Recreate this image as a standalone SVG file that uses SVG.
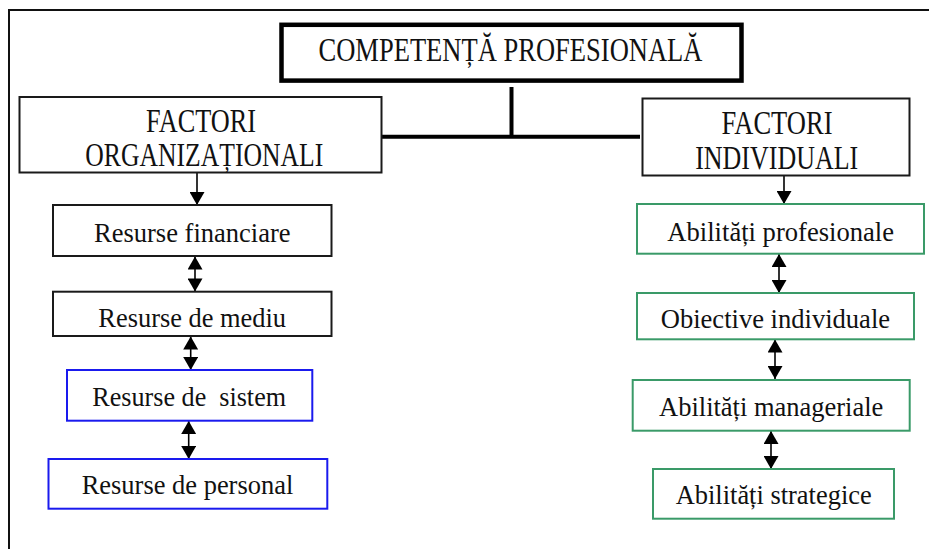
<svg xmlns="http://www.w3.org/2000/svg" width="929" height="549" viewBox="0 0 929 549">
<style>
text{font-family:"Liberation Serif","Times New Roman",serif;fill:#111;text-anchor:middle}
.h{font-size:33px}
.f{font-size:33px}
.t{font-size:28px}
.blk{fill:#fff;stroke:#1a1a1a;stroke-width:2}
.blu{fill:#fff;stroke:#1a1aee;stroke-width:2}
.grn{fill:#fff;stroke:#3a9a68;stroke-width:2}
.ln{stroke:#000;stroke-width:1.6;fill:none}
.thick{stroke:#000;stroke-width:4;fill:none}
</style>
<defs>
<marker id="ah" markerUnits="userSpaceOnUse" markerWidth="15" markerHeight="15" viewBox="0 0 13 15" refX="13" refY="7.5" orient="auto-start-reverse">
<path d="M0,0 L13,7.5 L0,15 z" fill="#000"/>
</marker>
</defs>
<rect width="929" height="549" fill="#fff"/>
<g id="frame">
<path d="M8,10 H929 M9,10 V549" stroke="#111" stroke-width="2" fill="none"/>
</g>
<g id="connectors">
<line class="thick" x1="511.5" y1="87" x2="511.5" y2="136.7"/>
<line class="thick" x1="380" y1="136.7" x2="640" y2="136.7"/>
<line class="ln" x1="197" y1="173" x2="197" y2="205" marker-end="url(#ah)"/>
<line class="ln" x1="195" y1="256.5" x2="195" y2="291.5" marker-start="url(#ah)" marker-end="url(#ah)"/>
<line class="ln" x1="190.7" y1="336.5" x2="190.7" y2="370" marker-start="url(#ah)" marker-end="url(#ah)"/>
<line class="ln" x1="188.7" y1="421" x2="188.7" y2="459" marker-start="url(#ah)" marker-end="url(#ah)"/>
<line class="ln" x1="784" y1="176" x2="784" y2="204" marker-end="url(#ah)"/>
<line class="ln" x1="779" y1="254" x2="779" y2="293" marker-start="url(#ah)" marker-end="url(#ah)"/>
<line class="ln" x1="775" y1="339.5" x2="775" y2="379" marker-start="url(#ah)" marker-end="url(#ah)"/>
<line class="ln" x1="771" y1="431" x2="771" y2="469" marker-start="url(#ah)" marker-end="url(#ah)"/>
</g>
<g id="competenta">
<rect x="281.5" y="24.8" width="460" height="55.8" fill="#fff" stroke="#000" stroke-width="4.5"/>
<text class="h" x="510.5" y="61" textLength="384" lengthAdjust="spacingAndGlyphs">COMPETENȚĂ PROFESIONALĂ</text>
</g>
<g id="factori-org">
<rect class="blk" x="19.5" y="97" width="362" height="75.5"/>
<text class="f" x="201" y="132" textLength="110" lengthAdjust="spacingAndGlyphs">FACTORI</text>
<text class="f" x="204.3" y="165.7" textLength="238" lengthAdjust="spacingAndGlyphs">ORGANIZAȚIONALI</text>
</g>
<g id="factori-ind">
<rect class="blk" x="642.5" y="98.5" width="267" height="77"/>
<text class="f" x="777" y="134" textLength="111" lengthAdjust="spacingAndGlyphs">FACTORI</text>
<text class="f" x="776.7" y="169" textLength="163" lengthAdjust="spacingAndGlyphs">INDIVIDUALI</text>
</g>
<g id="res-fin">
<rect class="blk" x="53" y="205" width="278.5" height="51"/>
<text class="t" x="192.3" y="241.7" textLength="196.7" lengthAdjust="spacingAndGlyphs">Resurse financiare</text>
</g>
<g id="res-mediu">
<rect class="blk" x="53" y="291.7" width="278.5" height="44.3"/>
<text class="t" x="192.2" y="327.3" textLength="187.7" lengthAdjust="spacingAndGlyphs">Resurse de mediu</text>
</g>
<g id="res-sistem">
<rect class="blu" x="67" y="370" width="245.3" height="50.7"/>
<text class="t" x="189.2" y="405.7" textLength="193.7" lengthAdjust="spacingAndGlyphs" xml:space="preserve">Resurse de  sistem</text>
</g>
<g id="res-personal">
<rect class="blu" x="48.5" y="459" width="278.8" height="49.7"/>
<text class="t" x="187.5" y="494" textLength="211.6" lengthAdjust="spacingAndGlyphs">Resurse de personal</text>
</g>
<g id="abil-prof">
<rect class="grn" x="637" y="204" width="287" height="49.7"/>
<text class="t" x="780.7" y="240.7" textLength="226.7" lengthAdjust="spacingAndGlyphs">Abilități profesionale</text>
</g>
<g id="obiective">
<rect class="grn" x="637" y="293" width="277" height="46.3"/>
<text class="t" x="775.4" y="328.3" textLength="229.3" lengthAdjust="spacingAndGlyphs">Obiective individuale</text>
</g>
<g id="abil-man">
<rect class="grn" x="632.7" y="380" width="277" height="50.7"/>
<text class="t" x="771.2" y="416" textLength="224.3" lengthAdjust="spacingAndGlyphs">Abilități manageriale</text>
</g>
<g id="abil-strat">
<rect class="grn" x="653" y="469" width="241" height="49.7"/>
<text class="t" x="773.7" y="504.3" textLength="196" lengthAdjust="spacingAndGlyphs">Abilități strategice</text>
</g>
</svg>
